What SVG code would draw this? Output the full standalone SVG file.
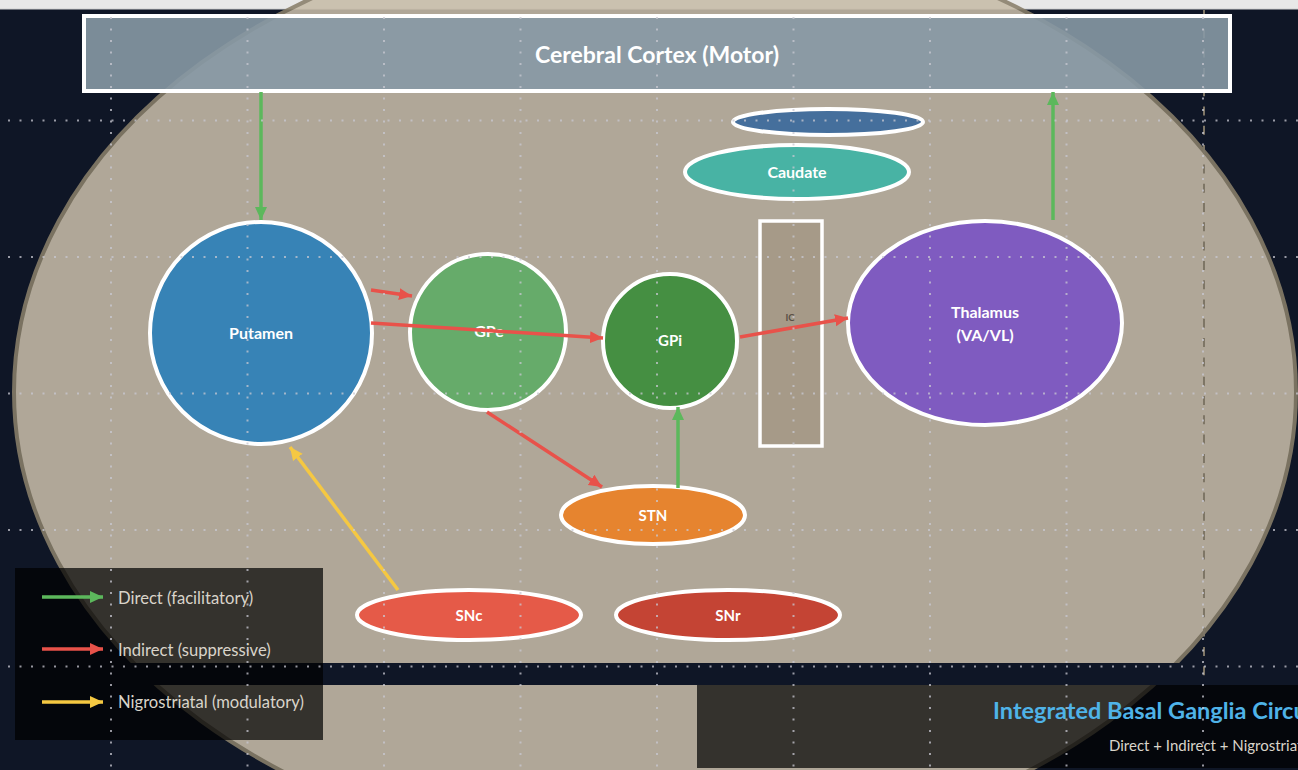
<svg xmlns="http://www.w3.org/2000/svg" width="1298" height="770" viewBox="0 0 1298 770">
  <style>
    .node-stroke { stroke: #ffffff; stroke-width: 4; }
    .lbl { font-family: Lato, "Open Sans", "Liberation Sans", sans-serif; font-weight: 700; fill: #ffffff; text-anchor: middle; }
    .leg { font-family: Lato, "Open Sans", "Liberation Sans", sans-serif; font-size: 16.6px; fill: #d9d4ca; }
    .grid { stroke: #c8c8d2; stroke-opacity: 0.75; stroke-width: 2; stroke-dasharray: 2 9.5; fill: none; }
    .g { stroke: #5cb85c; stroke-width: 3.5; fill: none; }
    .r { stroke: #e8524a; stroke-width: 3.5; fill: none; }
    .y { stroke: #f5c842; stroke-width: 3.5; fill: none; }
  </style>
  <defs>
    <marker id="mg" markerUnits="userSpaceOnUse" markerWidth="14" markerHeight="14" refX="13" refY="7" orient="auto">
      <path d="M0,1 L13,7 L0,13 z" fill="#5cb85c"/>
    </marker>
    <marker id="mr" markerUnits="userSpaceOnUse" markerWidth="14" markerHeight="14" refX="13" refY="7" orient="auto">
      <path d="M0,1 L13,7 L0,13 z" fill="#e8524a"/>
    </marker>
    <marker id="my" markerUnits="userSpaceOnUse" markerWidth="14" markerHeight="14" refX="13" refY="7" orient="auto">
      <path d="M0,1 L13,7 L0,13 z" fill="#f5c842"/>
    </marker>
  </defs>

  <!-- background -->
  <rect x="0" y="0" width="1298" height="770" fill="#0f1626"/>
  <rect x="0" y="0" width="1298" height="9" fill="#e8e8e8"/>
  <rect x="0" y="8.5" width="1298" height="1" fill="#cfcfcf"/>

  <!-- big brain ellipse -->
  <g id="brain" opacity="0.88">
    <ellipse cx="655" cy="392" rx="641" ry="466" fill="#c7bca8" stroke="#897f6a" stroke-width="4"/>
  </g>
  <rect x="0" y="663" width="1298" height="22" fill="#0f1626"/>

  <!-- midline dashed -->
  <line x1="1204" y1="10" x2="1204" y2="685" stroke="#7e7666" stroke-width="2" stroke-dasharray="9 10.3"/>

  <!-- cortex -->
  <g id="cortex">
    <rect x="84" y="16" width="1146" height="75" fill="#8799a5" fill-opacity="0.9" class="node-stroke"/>
    <text x="657" y="63" class="lbl" font-size="23">Cerebral Cortex (Motor)</text>
  </g>

  <g id="putamen">
    <circle cx="261" cy="333" r="111" fill="#3783b6" class="node-stroke"/>
    <text x="261" y="339" class="lbl" font-size="16">Putamen</text>
  </g>
  <g id="gpe">
    <circle cx="488" cy="332" r="78" fill="#66ab6a" class="node-stroke"/>
    <text x="489" y="337" class="lbl" font-size="16">GPe</text>
  </g>
  <g id="gpi">
    <circle cx="670" cy="341" r="67" fill="#458f42" class="node-stroke"/>
    <text x="670" y="346" class="lbl" font-size="15">GPi</text>
  </g>
  <g id="stn">
    <ellipse cx="653" cy="515" rx="92" ry="29" fill="#e6842f" class="node-stroke"/>
    <text x="653" y="521" class="lbl" font-size="15">STN</text>
  </g>
  <g id="snc">
    <ellipse cx="469" cy="615" rx="112" ry="25" fill="#e55a48" class="node-stroke"/>
    <text x="469" y="621" class="lbl" font-size="15">SNc</text>
  </g>
  <g id="snr">
    <ellipse cx="728" cy="615" rx="112" ry="25" fill="#c44434" class="node-stroke"/>
    <text x="728" y="621" class="lbl" font-size="15">SNr</text>
  </g>
  <g id="ventricle">
    <ellipse cx="828" cy="122" rx="95" ry="13" fill="#456f9c" class="node-stroke"/>
  </g>
  <g id="caudate">
    <ellipse cx="797" cy="172" rx="112" ry="27" fill="#48b3a4" class="node-stroke"/>
    <text x="797" y="178" class="lbl" font-size="16">Caudate</text>
  </g>
  <g id="ic">
    <rect x="760" y="221" width="62" height="225" fill="#a69a88" stroke="#ffffff" stroke-width="3.5"/>
    <text x="790" y="321" class="lbl" font-size="9.5" style="fill:#5a5046">IC</text>
  </g>
  <g id="thalamus">
    <ellipse cx="985" cy="323" rx="137" ry="102" fill="#7f5bc0" class="node-stroke"/>
    <text x="985" y="318" class="lbl" font-size="16">Thalamus</text>
    <text x="985" y="341" class="lbl" font-size="16">(VA/VL)</text>
  </g>

  <!-- connectors -->
  <g id="connectors">
    <line x1="261" y1="92" x2="261" y2="220" class="g" marker-end="url(#mg)"/>
    <line x1="1053" y1="220" x2="1053" y2="92" class="g" marker-end="url(#mg)"/>
    <line x1="678" y1="488" x2="678" y2="407" class="g" marker-end="url(#mg)"/>
    <line x1="371" y1="290" x2="412" y2="296" class="r" marker-end="url(#mr)"/>
    <line x1="371" y1="323" x2="603" y2="338" class="r" marker-end="url(#mr)"/>
    <line x1="487" y1="412" x2="602" y2="487" class="r" marker-end="url(#mr)"/>
    <line x1="740" y1="337" x2="848" y2="318" class="r" marker-end="url(#mr)"/>
    <line x1="398" y1="590" x2="290" y2="447" class="y" marker-end="url(#my)"/>
  </g>

  <!-- legend -->
  <g id="legend">
    <rect x="15" y="568" width="308" height="172" fill="#000000" fill-opacity="0.7"/>
    <line x1="42" y1="597" x2="103" y2="597" class="g" marker-end="url(#mg)"/>
    <text x="118" y="604" class="leg">Direct (facilitatory)</text>
    <line x1="42" y1="649" x2="103" y2="649" class="r" marker-end="url(#mr)"/>
    <text x="118" y="656" class="leg">Indirect (suppressive)</text>
    <line x1="42" y1="702" x2="103" y2="702" class="y" marker-end="url(#my)"/>
    <text x="118" y="708" class="leg">Nigrostriatal (modulatory)</text>
  </g>

  <!-- title panel -->
  <g id="title">
    <rect x="697" y="685" width="610" height="83" fill="#000000" fill-opacity="0.7"/>
    <text x="993" y="719" font-family="Lato, 'Open Sans', 'Liberation Sans', sans-serif" font-weight="700" font-size="23.5" fill="#4fb3e8">Integrated Basal Ganglia Circuit</text>
    <text x="1109" y="751" font-family="Lato, 'Open Sans', 'Liberation Sans', sans-serif" font-size="15" fill="#d9d4ca">Direct + Indirect + Nigrostriatal</text>
  </g>

  <!-- dotted grid -->
  <g id="grid" class="grid">
    <line x1="8" y1="120.5" x2="1298" y2="120.5"/>
    <line x1="8" y1="257" x2="1298" y2="257"/>
    <line x1="8" y1="393.5" x2="1298" y2="393.5"/>
    <line x1="8" y1="530" x2="1298" y2="530"/>
    <line x1="8" y1="666.5" x2="1298" y2="666.5"/>
    <line x1="111" y1="17" x2="111" y2="770"/>
    <line x1="247.5" y1="17" x2="247.5" y2="770"/>
    <line x1="384" y1="17" x2="384" y2="770"/>
    <line x1="520.5" y1="17" x2="520.5" y2="770"/>
    <line x1="657" y1="17" x2="657" y2="770"/>
    <line x1="793.5" y1="17" x2="793.5" y2="770"/>
    <line x1="930" y1="17" x2="930" y2="770"/>
    <line x1="1066.5" y1="17" x2="1066.5" y2="770"/>
    <line x1="1203" y1="17" x2="1203" y2="770"/>
  </g>
</svg>
